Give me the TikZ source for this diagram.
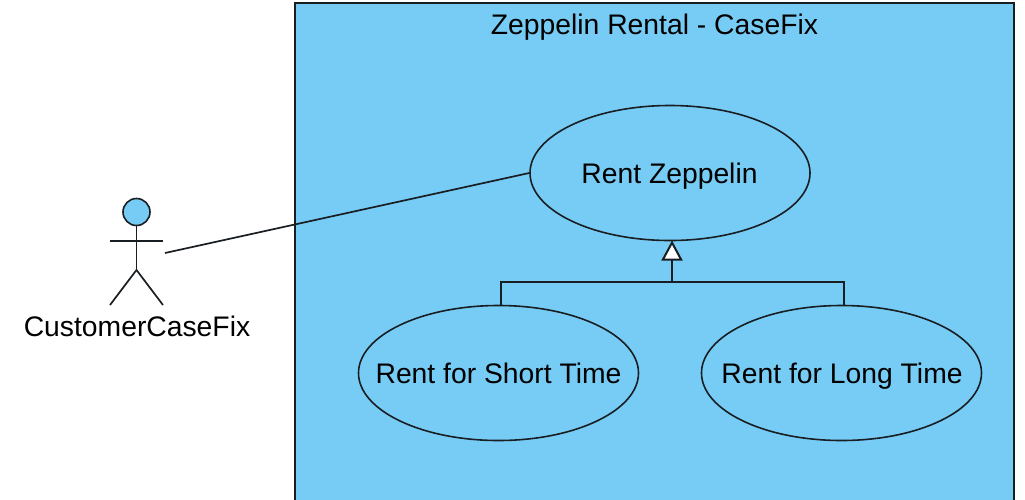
\documentclass[tikz,border=0pt]{standalone}
\usepackage{fontspec}
\setmainfont{Liberation Sans}
\usetikzlibrary{shapes.geometric,arrows.meta}
\definecolor{umlblue}{RGB}{119,204,245}
\definecolor{umlline}{RGB}{25,30,35}
\tikzset{
  usecase/.style={ellipse,draw=umlline,fill=umlblue,line width=1.6pt,minimum width=280pt,minimum height=135pt,inner sep=0pt},
  umlstroke/.style={draw=umlline,line width=2pt},
  genarrow/.style={umlstroke,-{Triangle[open,fill=white,length=20pt,width=21pt,line width=2pt]}},
  lbl/.style={inner sep=0pt,anchor=base,text=black,font=\fontsize{28.3}{34}\selectfont}
}
\begin{document}
\begin{tikzpicture}[x=1pt,y=-1pt]
\useasboundingbox (0,0) rectangle (1025,499);
\clip (0,0) rectangle (1025,499);
\fill[white] (0,0) rectangle (1025,499);
\draw[umlstroke,fill=umlblue] (295,3) rectangle (1014,520);
\node[lbl] (title) at (654.5,34) {Zeppelin Rental - CaseFix};
\node[usecase] (zep) at (670,173) {};
\node[usecase] (short) at (498.5,373) {};
\node[usecase] (long) at (841.5,373) {};
\node[lbl] (zepText) at (669.5,183) {Rent Zeppelin};
\node[lbl] (shortText) at (498.5,383) {Rent for Short Time};
\node[lbl] (longText) at (842,383) {Rent for Long Time};
% actor
\node[circle,draw=umlline,fill=umlblue,line width=1.6pt,minimum size=27pt,inner sep=0pt] (head) at (136.5,212) {};
\coordinate (hip) at (136.5,270);
\coordinate (armL) at (110,241);
\coordinate (armR) at (163,241);
\coordinate (footL) at (110,305);
\coordinate (footR) at (163,305);
\coordinate (assocEnd) at (165,253);
\draw[umlstroke,line width=1.7pt] (head.south) -- (hip);
\draw[umlstroke,line width=1.7pt] (armL) -- (armR);
\draw[umlstroke,line width=1.7pt] (footL) -- (hip) -- (footR);
\node[lbl] (actor) at (137,336) {CustomerCaseFix};
% association
\draw[umlstroke,line width=1.7pt] (assocEnd) -- (zep.west);
% generalization
\coordinate (junction) at (672,282);
\coordinate (apex) at (672,240.5);
\coordinate (dropS) at (501,305.5);
\coordinate (dropL) at (844,305.5);
\draw[umlstroke] (dropS) -- (dropS |- junction) -- (dropL |- junction) -- (dropL);
\draw[genarrow] (junction) -- (apex);
\end{tikzpicture}
\end{document}
